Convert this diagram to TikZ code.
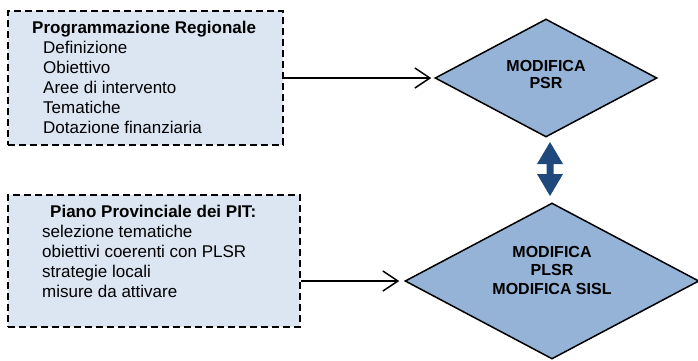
\documentclass[tikz,border=0pt]{standalone}
\usepackage{fontspec}
\setmainfont{Liberation Sans}
\usetikzlibrary{arrows.meta,shapes.geometric,calc}
\definecolor{boxfill}{HTML}{DCE6F2}
\definecolor{diafill}{HTML}{95B3D7}
\definecolor{darrow}{HTML}{1F497D}
\begin{document}
\begin{tikzpicture}[x=1pt,y=-1pt,
  infobox/.style={draw, dash pattern=on 7pt off 4pt, line width=2pt, fill=boxfill, inner sep=0pt},
  dia/.style={diamond, draw, line width=1.5pt, fill=diafill, inner sep=0pt},
  boxtext/.style={font=\fontsize{17}{20}\selectfont, align=left, inner sep=0pt, anchor=base west},
  diatext/.style={font=\fontsize{16}{17}\selectfont\bfseries, align=center, inner sep=0pt, anchor=base},
  conn/.style={line width=1.5pt, -{Straight Barb[length=15pt,width=20pt,line width=1.5pt]}},
]
\useasboundingbox (0,0) rectangle (698,360);

% boxes
\node[infobox, minimum width=275pt, minimum height=134pt] (b1) at (145.5,78) {};
\node[infobox, minimum width=292pt, minimum height=132pt] (b2) at (154,261) {};

% base anchor of a multi-line node = baseline of its last line
\node[boxtext] (t1) at (32,133) {\textbf{Programmazione Regionale}\\
  \hspace*{11pt}Definizione\\
  \hspace*{11pt}Obiettivo\\
  \hspace*{11pt}Aree di intervento\\
  \hspace*{11pt}Tematiche\\
  \hspace*{11pt}Dotazione finanziaria};
\node[boxtext] (t2) at (42,297) {\hspace*{8pt}\textbf{Piano Provinciale dei PIT:}\\
  selezione tematiche\\
  obiettivi coerenti con PLSR\\
  strategie locali\\
  misure da attivare};

% diamonds
\node[dia, minimum width=222pt, minimum height=118pt] (d1) at (546,78) {};
\node[dia, minimum width=294pt, minimum height=156pt] (d2) at (552,281) {};

\node[diatext] (dt1) at (546,88) {MODIFICA\\PSR};
\node[diatext, font=\fontsize{16}{18.5}\selectfont\bfseries] (dt2) at (552,294) {MODIFICA\\PLSR\\MODIFICA SISL};

% connectors
\draw[conn, shorten >=3pt] (b1.east) -- (d1.west);
\draw[conn, shorten >=5pt] (b2.east |- d2.west) -- (d2.west);

% double arrow between diamonds
\fill[darrow] (550,142) -- (563,164) -- (553.5,164) -- (553.5,174) -- (563,174)
  -- (550,196) -- (537,174) -- (546.5,174) -- (546.5,164) -- (537,164) -- cycle;
\end{tikzpicture}
\end{document}
